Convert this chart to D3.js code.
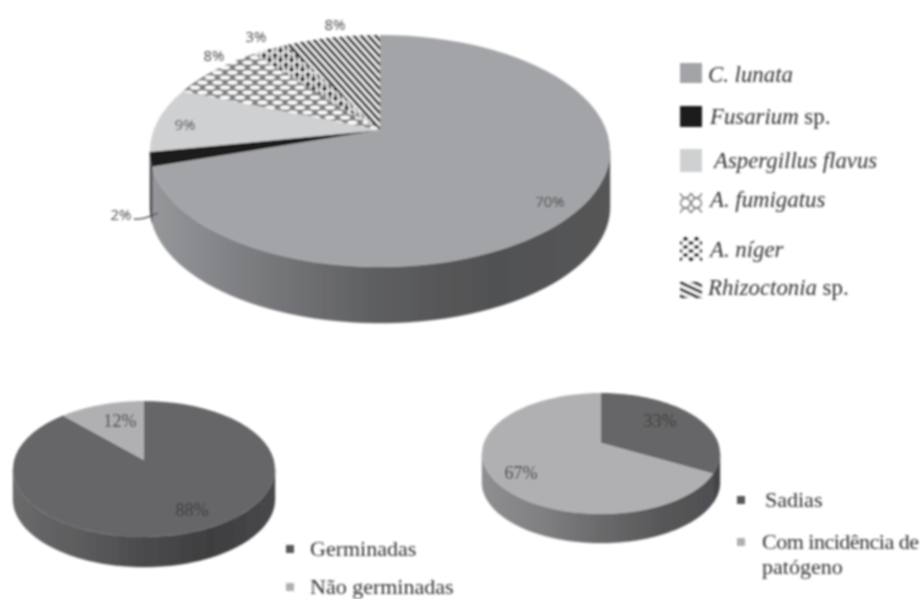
<html lang="en">
<head>
  <meta charset="UTF-8"/>
  <title>Pie charts with D3.js</title>
  <script src="https://d3js.org/d3.v7.min.js"></script>
  <style>
body { margin: 0; background: #fff; }
svg { display: block; }
text.sans { font-family: 'Open Sans', sans-serif; font-size: 15px; fill: #4a4a4a; }
text.pct { font-family: 'Liberation Serif', serif; font-size: 18px; fill: #3a3a3a; }
text.leg { font-family: 'Liberation Serif', serif; font-size: 22.8px; fill: #333; }
text.leg2 { font-family: 'Liberation Serif', serif; font-size: 22px; fill: #333; }
  </style>
</head>
<body>
  <svg width="921" height="599"></svg>
  <script>
// values
const fungi = ['C. lunata', 'Fusarium sp.', 'Aspergillus flavus', 'A. fumigatus', 'A. níger', 'Rhizoctonia sp.'];
const fungiValues = [70, 2, 9, 8, 3, 8];
const germCats = ['Germinadas', 'Não germinadas'];
const germValues = [88, 12];
const healthCats = ['Sadias', 'Com incidência de patógeno'];
const healthValues = [33, 67];

const svg = d3.select('svg');
const defs = svg.append('defs');

const blur = defs.append('filter').attr('id', 'soft')
  .attr('filterUnits', 'userSpaceOnUse')
  .attr('x', 0).attr('y', 0).attr('width', 921).attr('height', 599);
blur.append('feGaussianBlur').attr('stdDeviation', 0.85);

// hatches
const stripes = defs.append('pattern').attr('id', 'stripes')
  .attr('patternUnits', 'userSpaceOnUse').attr('width', 5.4).attr('height', 5.4)
  .attr('patternTransform', 'rotate(-42)');
stripes.append('rect').attr('width', 5.4).attr('height', 5.4).attr('fill', '#f8f8f8');
stripes.append('rect').attr('width', 2.8).attr('height', 5.4).attr('fill', '#111');

const honey = defs.append('pattern').attr('id', 'honey')
  .attr('patternUnits', 'userSpaceOnUse').attr('width', 15).attr('height', 10);
honey.append('rect').attr('width', 15).attr('height', 10).attr('fill', '#7e7e80');
[[7.5, 2.5], [0, 7.5], [15, 7.5]].forEach(p => {
  honey.append('ellipse').attr('cx', p[0]).attr('cy', p[1]).attr('rx', 5).attr('ry', 2).attr('fill', '#fff');
});

const dots = defs.append('pattern').attr('id', 'dots')
  .attr('patternUnits', 'userSpaceOnUse').attr('width', 11).attr('height', 9.6);
dots.append('rect').attr('width', 11).attr('height', 9.6).attr('fill', '#8e8e90');
[[5.5, 2.4], [0, 7.2], [11, 7.2]].forEach(p => {
  dots.append('circle').attr('cx', p[0]).attr('cy', p[1]).attr('r', 3.9).attr('fill', '#fff');
  dots.append('circle').attr('cx', p[0]).attr('cy', p[1]).attr('r', 2.4).attr('fill', '#111');
});

// small swatch versions for the legend
const lgHatch = defs.append('pattern').attr('id', 'lgStripes')
  .attr('patternUnits', 'userSpaceOnUse').attr('width', 6).attr('height', 6)
  .attr('patternTransform', 'rotate(-65)');
lgHatch.append('rect').attr('width', 6).attr('height', 6).attr('fill', '#fff');
lgHatch.append('rect').attr('width', 3).attr('height', 6).attr('fill', '#222');

const lgNet = defs.append('pattern').attr('id', 'lgNet')
  .attr('patternUnits', 'userSpaceOnUse').attr('width', 11).attr('height', 10).attr('x', 680).attr('y', 193);
lgNet.append('path').attr('d', 'M0,0 Q2.7,5 5.5,5 T11,0 M0,10 Q2.7,5 5.5,5 T11,10')
  .attr('fill', 'none').attr('stroke', '#777').attr('stroke-width', 1.4);

const lgDots = defs.append('pattern').attr('id', 'lgDots')
  .attr('patternUnits', 'userSpaceOnUse').attr('width', 11).attr('height', 8).attr('x', 680).attr('y', 237);
lgDots.append('rect').attr('width', 11).attr('height', 8).attr('fill', '#fff');
[[5.5, 2], [0, 6], [11, 6]].forEach(p => {
  lgDots.append('ellipse').attr('cx', p[0]).attr('cy', p[1]).attr('rx', 2.7).attr('ry', 1.9).attr('fill', '#111');
});

const fungiFill = ['#a3a4a7', '#1e1b1c', '#cfd0d2', 'url(#honey)', 'url(#dots)', 'url(#stripes)'];

function sideGradient(id, x0, x1, stops) {
  const g = defs.append('linearGradient').attr('id', id)
    .attr('gradientUnits', 'userSpaceOnUse')
    .attr('x1', x0).attr('x2', x1).attr('y1', 0).attr('y2', 0);
  stops.forEach((c, i) => g.append('stop').attr('offset', i / (stops.length - 1)).attr('stop-color', c));
  return `url(#${id})`;
}

// tilted disc: the apex sits off the ellipse centre, k is that offset
function drawPie(p) {
  const pie = d3.pie().sort(null).value(d => d)(p.values);
  const k = (p.apexY - p.cy) / p.ry;
  const project = a => {
    const u = Math.sin(a), v = -Math.cos(a);
    const w = 1 + k * v;
    return [p.cx + p.rx * u * Math.sqrt(1 - k * k) / w, p.cy + p.ry * (v + k) / w];
  };
  const line = d3.line();
  const arcPts = (a0, a1) => d3.range(0, 61).map(i => project(a0 + (a1 - a0) * i / 60));

  const g = svg.append('g').attr('filter', 'url(#soft)');

  // front wall
  const lo = Math.acos(k), hi = 2 * Math.PI - lo;
  pie.forEach((s, i) => {
    const a0 = Math.max(s.startAngle, lo), a1 = Math.min(s.endAngle, hi);
    if (a1 <= a0) return;
    const upper = arcPts(a0, a1);
    const lower = upper.slice().reverse().map(q => [q[0], q[1] + p.depth]);
    g.append('path').attr('d', line(upper.concat(lower)) + 'Z')
      .attr('fill', p.side[i]).attr('stroke', p.side[i]).attr('stroke-width', 0.4);
  });

  // top face
  pie.forEach((s, i) => {
    const pts = [[p.cx, p.apexY]].concat(arcPts(s.startAngle, s.endAngle));
    g.append('path').attr('d', line(pts) + 'Z')
      .attr('fill', p.fill[i]);
  });

  p.labels.forEach((t, i) => {
    g.append('text').attr('class', p.textClass)
      .attr('x', t[0]).attr('y', t[1]).attr('text-anchor', 'middle')
      .text(p.values[i] + '%');
  });
  return g;
}

const bigSide = sideGradient('bigSide', 155, 606, ['#959699', '#77787b', '#5d5e60', '#505153', '#555658']);
const bigPie = drawPie({
  values: fungiValues, cx: 380, cy: 151, rx: 230, ry: 116, apexY: 130, depth: 56,
  fill: fungiFill,
  side: [bigSide, '#3a3a3c', bigSide, bigSide, bigSide, bigSide],
  labels: [[550, 207], [121, 220], [185, 130], [214, 61], [256, 42], [335, 30]],
  textClass: 'sans'
});
bigPie.append('path').attr('d', 'M134,219 C145,220 150,216 158,213')
  .attr('fill', 'none').attr('stroke', '#444').attr('stroke-width', 1.3);

const germSide = sideGradient('germSide', 15, 275, ['#6a6a6c', '#5c5c5e', '#4a4a4c', '#3e3e40', '#48484a']);
drawPie({
  values: germValues, cx: 144, cy: 469, rx: 131, ry: 68, apexY: 460, depth: 30,
  fill: ['#666668', '#b0b0b2'], side: [germSide, germSide],
  labels: [[192, 516], [120, 427]],
  textClass: 'pct'
});

const healthSide = sideGradient('healthSide', 483, 718, ['#8e8e90', '#808082', '#6a6a6c', '#58585a', '#4e4e50']);
drawPie({
  values: healthValues, cx: 601, cy: 453.5, rx: 119, ry: 60.5, apexY: 443, depth: 29,
  fill: ['#666668', '#b0b0b2'], side: ['#454547', healthSide],
  labels: [[660, 427], [521, 479]],
  textClass: 'pct'
});

// legends
const lg = svg.append('g').attr('filter', 'url(#soft)');
const swatchFill = ['#a3a4a7', '#1e1b1c', '#cfd0d2', 'url(#lgNet)', 'url(#lgDots)', 'url(#lgStripes)'];
const swatchY = [63, 106, 149, 193, 237, 282];
const swatchH = [20, 21, 23, 20, 24, 16];
const textX = [708, 710, 714, 710, 710, 708];
const textY = [82, 124, 168, 207, 257, 295];
// italic name, "sp." stays upright
fungi.forEach((name, i) => {
  lg.append('rect').attr('x', 680).attr('y', swatchY[i]).attr('width', 22).attr('height', swatchH[i])
    .attr('fill', swatchFill[i]);
  const t = lg.append('text').attr('class', 'leg').attr('x', textX[i]).attr('y', textY[i]);
  const parts = name.split(' sp.');
  t.append('tspan').attr('font-style', 'italic').text(parts[0]);
  if (name.endsWith(' sp.')) t.append('tspan').text(' sp.');
});

[[germCats[0], 286, 545, 310, 556, '#58585a'], [germCats[1], 286, 583, 310, 594, '#b0b0b2']].forEach(r => {
  lg.append('rect').attr('x', r[1]).attr('y', r[2]).attr('width', 8).attr('height', 8).attr('fill', r[5]);
  lg.append('text').attr('class', 'leg2').attr('x', r[3]).attr('y', r[4]).text(r[0]);
});

lg.append('rect').attr('x', 737).attr('y', 496).attr('width', 8).attr('height', 8).attr('fill', '#58585a');
lg.append('text').attr('class', 'leg2').attr('x', 765).attr('y', 507).text(healthCats[0]);
lg.append('rect').attr('x', 737).attr('y', 538).attr('width', 8).attr('height', 8).attr('fill', '#b0b0b2');
const wrap = healthCats[1].split(' de ');
lg.append('text').attr('class', 'leg2').attr('x', 762).attr('y', 549).attr('letter-spacing', -0.5).text(wrap[0] + ' de');
lg.append('text').attr('class', 'leg2').attr('x', 762).attr('y', 574).text(wrap[1]);
  </script>
</body>
</html>
